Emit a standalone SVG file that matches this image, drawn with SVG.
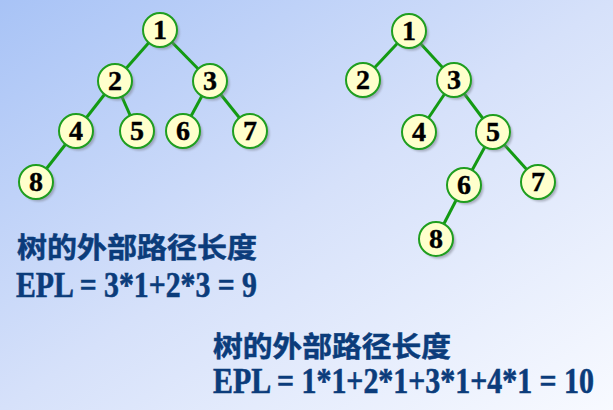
<svg xmlns="http://www.w3.org/2000/svg" width="613" height="410" viewBox="0 0 613 410">
<defs>
<linearGradient id="bg" x1="0" y1="0" x2="1" y2="1">
<stop offset="0" stop-color="#a8c3f6"/>
<stop offset="0.5" stop-color="#d6e1fa"/>
<stop offset="1" stop-color="#f8faff"/>
</linearGradient>
<filter id="sh" x="-30%" y="-30%" width="170%" height="170%">
<feGaussianBlur stdDeviation="1"/>
</filter>
<g id="nd">
<circle cx="2.5" cy="2.5" r="17" fill="#7a7f8c" opacity="0.55" filter="url(#sh)"/>
<circle cx="0" cy="0" r="17" fill="#ffffcc" stroke="#1f9e1f" stroke-width="2"/>
</g>
</defs>
<style>
.e{stroke:#139a13;stroke-width:3;fill:none}
.n{font-family:'Liberation Serif','DejaVu Serif',serif;font-weight:700;font-size:28px;fill:#000;stroke:#000;stroke-width:0.4;text-anchor:middle}
.h{font-family:'Noto Sans CJK SC','Noto Sans',sans-serif;font-weight:700;font-size:28px;fill:#0b3c7b;stroke:#0b3c7b;stroke-width:0.5}
.f{font-family:'Liberation Serif','DejaVu Serif',serif;font-weight:700;font-size:30px;fill:#0b3c7b;stroke:#0b3c7b;stroke-width:0.5}
</style>
<rect width="613" height="410" fill="url(#bg)"/>
<g id="connectors">
<line class="e" x1="160" y1="30" x2="115" y2="81"/>
<line class="e" x1="160" y1="30" x2="210" y2="81"/>
<line class="e" x1="115" y1="81" x2="76" y2="131"/>
<line class="e" x1="115" y1="81" x2="137" y2="131"/>
<line class="e" x1="210" y1="81" x2="183" y2="131"/>
<line class="e" x1="210" y1="81" x2="250" y2="131"/>
<line class="e" x1="76" y1="131" x2="36" y2="182"/>
<line class="e" x1="409" y1="31" x2="363" y2="80"/>
<line class="e" x1="409" y1="31" x2="454" y2="80"/>
<line class="e" x1="454" y1="80" x2="419" y2="132"/>
<line class="e" x1="454" y1="80" x2="493" y2="132"/>
<line class="e" x1="493" y1="132" x2="464" y2="185"/>
<line class="e" x1="493" y1="132" x2="538" y2="182"/>
<line class="e" x1="464" y1="185" x2="436" y2="239"/>
</g>
<g id="L1"><use href="#nd" x="160" y="30"/><text class="n" x="160" y="39">1</text></g>
<g id="L2"><use href="#nd" x="115" y="81"/><text class="n" x="115" y="90">2</text></g>
<g id="L3"><use href="#nd" x="210" y="81"/><text class="n" x="210" y="90">3</text></g>
<g id="L4"><use href="#nd" x="76" y="131"/><text class="n" x="76" y="140">4</text></g>
<g id="L5"><use href="#nd" x="137" y="131"/><text class="n" x="137" y="140">5</text></g>
<g id="L6"><use href="#nd" x="183" y="131"/><text class="n" x="183" y="140">6</text></g>
<g id="L7"><use href="#nd" x="250" y="131"/><text class="n" x="250" y="140">7</text></g>
<g id="L8"><use href="#nd" x="36" y="182"/><text class="n" x="36" y="191">8</text></g>
<g id="R1"><use href="#nd" x="409" y="31"/><text class="n" x="409" y="40">1</text></g>
<g id="R2"><use href="#nd" x="363" y="80"/><text class="n" x="363" y="89">2</text></g>
<g id="R3"><use href="#nd" x="454" y="80"/><text class="n" x="454" y="89">3</text></g>
<g id="R4"><use href="#nd" x="419" y="132"/><text class="n" x="419" y="141">4</text></g>
<g id="R5"><use href="#nd" x="493" y="132"/><text class="n" x="493" y="141">5</text></g>
<g id="R6"><use href="#nd" x="464" y="185"/><text class="n" x="464" y="194">6</text></g>
<g id="R7"><use href="#nd" x="538" y="182"/><text class="n" x="538" y="191">7</text></g>
<g id="R8"><use href="#nd" x="436" y="239"/><text class="n" x="436" y="248">8</text></g>
<g id="label1">
<text class="h" x="17" y="258" textLength="240" lengthAdjust="spacingAndGlyphs">树的外部路径长度</text>
<text class="f" transform="translate(16,297) scale(1,1.18)" x="0" y="0" textLength="241" lengthAdjust="spacingAndGlyphs">EPL = 3*1+2*3 = 9</text>
</g>
<g id="label2">
<text class="h" x="213" y="357" textLength="238" lengthAdjust="spacingAndGlyphs">树的外部路径长度</text>
<text class="f" transform="translate(213,393) scale(1,1.18)" x="0" y="0" textLength="381" lengthAdjust="spacingAndGlyphs">EPL = 1*1+2*1+3*1+4*1 = 10</text>
</g>
</svg>
